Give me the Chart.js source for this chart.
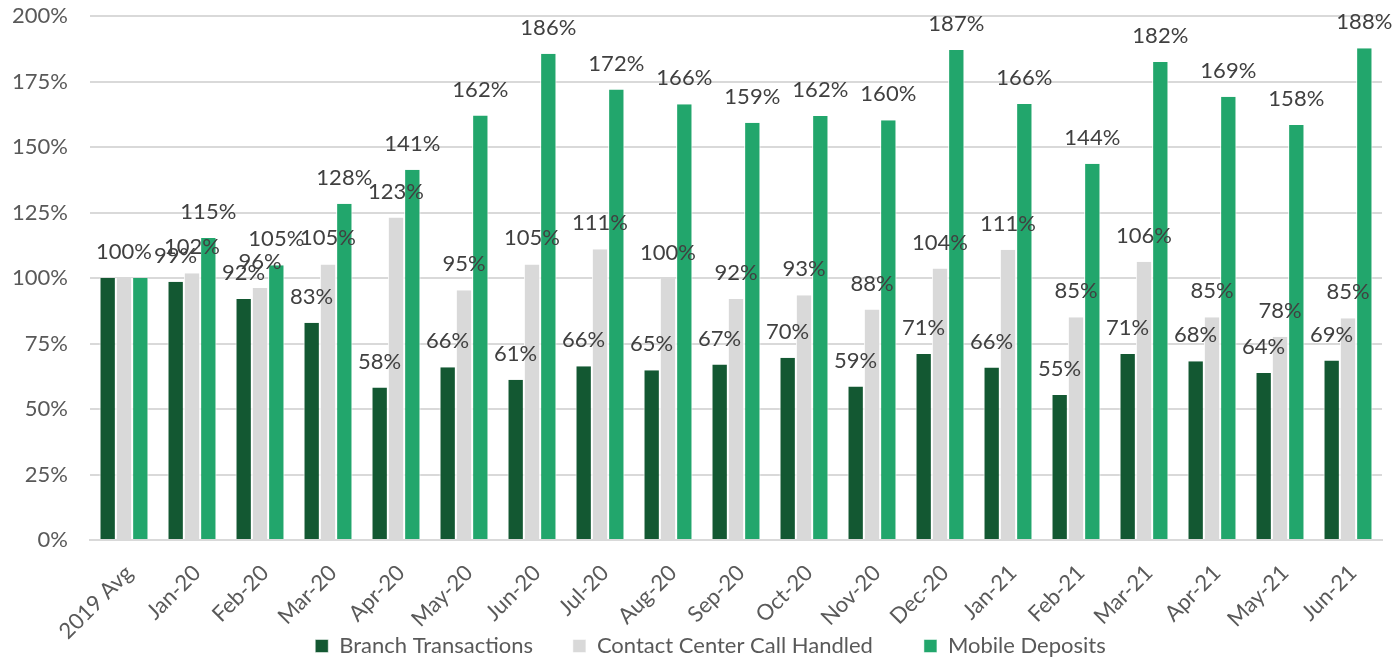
<!DOCTYPE html>
<html>
<head>
<meta charset="utf-8">
<script src="https://cdn.jsdelivr.net/npm/chart.js@4"></script>
<style>
html,body{margin:0;padding:0;background:#fff;}
#wrap{width:1394px;height:657px;position:relative;}
</style>
</head>
<body>
<div id="wrap"><canvas id="c" width="1394" height="657"></canvas></div>
<script>
const categories = ["2019 Avg","Jan-20","Feb-20","Mar-20","Apr-20","May-20","Jun-20","Jul-20","Aug-20","Sep-20","Oct-20","Nov-20","Dec-20","Jan-21","Feb-21","Mar-21","Apr-21","May-21","Jun-21"];
const branchTransactions = [100, 98.6, 92.0, 82.9, 58.2, 65.9, 61.2, 66.3, 64.8, 67.0, 69.6, 58.6, 71.0, 65.8, 55.3, 71.0, 68.2, 63.7, 68.5];
const contactCenter = [100, 101.8, 96.2, 105.2, 123.1, 95.3, 105.2, 111.0, 99.8, 92.0, 93.4, 88.0, 103.6, 110.8, 85.0, 106.2, 85.0, 77.6, 84.6];
const mobileDeposits = [100, 115.3, 104.9, 128.3, 141.3, 162.0, 185.6, 171.9, 166.3, 159.3, 161.8, 160.2, 187.0, 166.4, 143.6, 182.4, 169.2, 158.4, 187.7];
const yTicks = [0, 25, 50, 75, 100, 125, 150, 175, 200];
const legendSpacer = [6, 8, 0];

const FONT = "Lato, 'Liberation Sans', sans-serif";
const TXT = "#595959";
const FS = 22;

const labelPlugin = {
  id: 'barLabels',
  afterDatasetsDraw(chart) {
    const ctx = chart.ctx;
    ctx.save();
    ctx.font = FS + "px " + FONT;
    ctx.fillStyle = "#404040";
    ctx.textAlign = "center";
    ctx.textBaseline = "middle";
    chart.data.datasets.forEach((ds, di) => {
      const meta = chart.getDatasetMeta(di);
      meta.data.forEach((bar, i) => {
        if (i === 0 && di !== 1) return;
        const v = ds.data[i];
        ctx.fillText(Math.round(v) + "%", bar.x, bar.y - 26);
      });
    });
    ctx.restore();
  }
};

const bw = {left:1, right:1, top:0, bottom:0};

new Chart(document.getElementById('c'), {
  type: 'bar',
  data: {
    labels: categories,
    datasets: [
      {label: "Branch Transactions", data: branchTransactions, backgroundColor: "#135832", borderColor: "#ffffff", borderWidth: bw, borderSkipped: false},
      {label: "Contact Center Call Handled", data: contactCenter, backgroundColor: "#D9D9D9", borderColor: "#ffffff", borderWidth: bw, borderSkipped: false},
      {label: "Mobile Deposits", data: mobileDeposits, backgroundColor: "#22A66C", borderColor: "#ffffff", borderWidth: bw, borderSkipped: false}
    ]
  },
  options: {
    responsive: false,
    animation: false,
    layout: {padding: {left: 39, right: 12, top: 0, bottom: -10}},
    datasets: {bar: {categoryPercentage: 0.72, barPercentage: 1.0}},
    plugins: {
      legend: {
        position: 'bottom',
        labels: {
          color: TXT, font: {family: FONT, size: FS}, boxWidth: 13, boxHeight: 13, padding: 6,
          generateLabels(chart) {
            const items = Chart.defaults.plugins.legend.labels.generateLabels(chart);
            items.forEach((it, k) => { it.text = it.text + " ".repeat(legendSpacer[k]); });
            return items;
          }
        }
      },
      tooltip: {enabled: false}
    },
    scales: {
      x: {
        grid: {display: false, drawTicks: false, tickLength: 0},
        border: {color: "#D9D9D9", width: 2},
        afterFit(axis) { axis.height = 89; axis._computeLabelArea = () => undefined; },
        ticks: {color: TXT, font: {family: FONT, size: FS}, maxRotation: 45, minRotation: 45, padding: 20, labelOffset: 5}
      },
      y: {
        min: 0, max: 200,
        afterBuildTicks(axis) { axis.ticks = yTicks.map(v => ({value: v})); },
        afterFit(axis) { axis.width = 51; axis.paddingTop = 16; axis.paddingBottom = 0; axis._computeLabelArea = () => undefined; },
        grid: {color: "#D9D9D9", lineWidth: 2, drawTicks: false},
        border: {display: false},
        ticks: {color: TXT, font: {family: FONT, size: FS}, padding: 22, callback: v => v + "%"}
      }
    }
  },
  plugins: [labelPlugin]
});
</script>
</body>
</html>
